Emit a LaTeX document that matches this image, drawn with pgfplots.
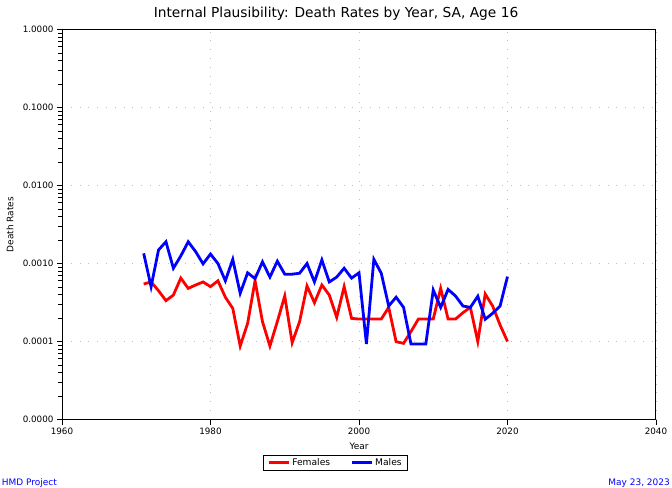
\documentclass[border=0pt]{standalone}
\usepackage{fontspec}
\setmainfont{DejaVu Sans}
\usepackage{pgfplots}
\pgfplotsset{compat=1.18}
\definecolor{hmdblue}{RGB}{0,0,255}
\definecolor{hmdred}{RGB}{255,0,0}
\begin{document}
\begin{tikzpicture}
\useasboundingbox (0,0) rectangle (672bp,488bp);
\begin{axis}[
  at={(62bp,68.5bp)}, anchor=south west,
  scale only axis, width=594bp, height=390bp,
  xmin=1960, xmax=2040,
  ymode=log, ymin=1e-5, ymax=1,
  xtick={1960,1980,2000,2020,2040},
  xticklabels={1960,1980,2000,2020,2040},
  ytick={1e-5,1e-4,1e-3,1e-2,1e-1,1},
  yticklabels={0.0000,0.0001,0.0010,0.0100,0.1000,1.0000},
  tick align=outside, tick pos=left,
  major tick length=5bp, minor tick length=4bp,
  tick style={black, line width=0.8bp},
  axis line style={line width=1bp},
  grid=major,
  major grid style={gray!50, line width=0.8bp, dash pattern=on 0.8bp off 8bp},
  /pgf/number format/assume math mode=true,
  tick label style={font=\fontsize{8.8}{10}\selectfont},
  legend style={at={(axis description cs:0.4604,-0.1105)}, anchor=center,
    draw=black, line width=0.8bp, font=\fontsize{9.2}{10}\selectfont,
    inner xsep=4bp, inner ysep=1.2bp,
    /tikz/every even column/.append style={column sep=18bp}},
  legend columns=2,
  legend image code/.code={\draw[#1, line width=3bp] (0bp,0bp) -- (20bp,0bp);},
]
\addplot[hmdred, line width=2.8bp] coordinates {
(1971,0.000546) (1972,0.00058) (1973,0.000448) (1974,0.000334) (1975,0.000394)
(1976,0.00065) (1977,0.00048) (1978,0.00053) (1979,0.00058) (1980,0.000505)
(1981,0.0006) (1982,0.00037) (1983,0.000266) (1984,0.0000875) (1985,0.000171)
(1986,0.0006) (1987,0.00018) (1988,0.0000875) (1989,0.00018) (1990,0.000383)
(1991,0.0000966) (1992,0.00018) (1993,0.000515) (1994,0.000314) (1995,0.00053)
(1996,0.000394) (1997,0.000204) (1998,0.000505) (1999,0.000198) (2000,0.000194)
(2001,0.000194) (2002,0.000194) (2003,0.000194) (2004,0.000274) (2005,0.0000995)
(2006,0.0000947) (2007,0.000134) (2008,0.000194) (2009,0.000194) (2010,0.000194)
(2011,0.00048) (2012,0.000194) (2013,0.000194) (2014,0.000234) (2015,0.000274)
(2016,0.0001) (2017,0.000406) (2018,0.000285) (2019,0.000163) (2020,0.0001)
};
\addlegendentry{Females}
\addplot[hmdblue, line width=2.8bp] coordinates {
(1971,0.00135) (1972,0.000505) (1973,0.00149) (1974,0.0019) (1975,0.00087)
(1976,0.00125) (1977,0.0019) (1978,0.00142) (1979,0.00099) (1980,0.00132)
(1981,0.001) (1982,0.0006) (1983,0.00113) (1984,0.000415) (1985,0.00076)
(1986,0.00064) (1987,0.00105) (1988,0.00067) (1989,0.00107) (1990,0.00073)
(1991,0.00073) (1992,0.00075) (1993,0.001) (1994,0.00058) (1995,0.00111)
(1996,0.00058) (1997,0.00067) (1998,0.00087) (1999,0.00065) (2000,0.00076)
(2001,0.000093) (2002,0.00113) (2003,0.00075) (2004,0.000285) (2005,0.00037)
(2006,0.000274) (2007,0.000093) (2008,0.000093) (2009,0.000093) (2010,0.000457)
(2011,0.000274) (2012,0.000465) (2013,0.000383) (2014,0.000285) (2015,0.000274)
(2016,0.00038) (2017,0.000193) (2018,0.00023) (2019,0.000285) (2020,0.00068)
};
\addlegendentry{Males\hspace{18bp}}
\end{axis}
\node[anchor=base, font=\fontsize{13.8}{15}\selectfont] at (336bp,470.7bp) {Internal Plausibility: Death Rates by Year, SA, Age 16};
\node[anchor=base, font=\fontsize{9}{10}\selectfont, inner sep=0pt] at (359bp,39bp) {Year};
\node[rotate=90, anchor=center, font=\fontsize{9}{10}\selectfont, inner sep=0pt] at (10bp,263.5bp) {Death Rates};
\node[anchor=base west, font=\fontsize{9}{10}\selectfont, text=hmdblue, inner sep=0pt] at (1.7bp,2.3bp) {HMD Project};
\node[anchor=base east, font=\fontsize{9}{10}\selectfont, text=hmdblue, inner sep=0pt] at (670bp,2.3bp) {May 23, 2023};
\end{tikzpicture}
\end{document}
